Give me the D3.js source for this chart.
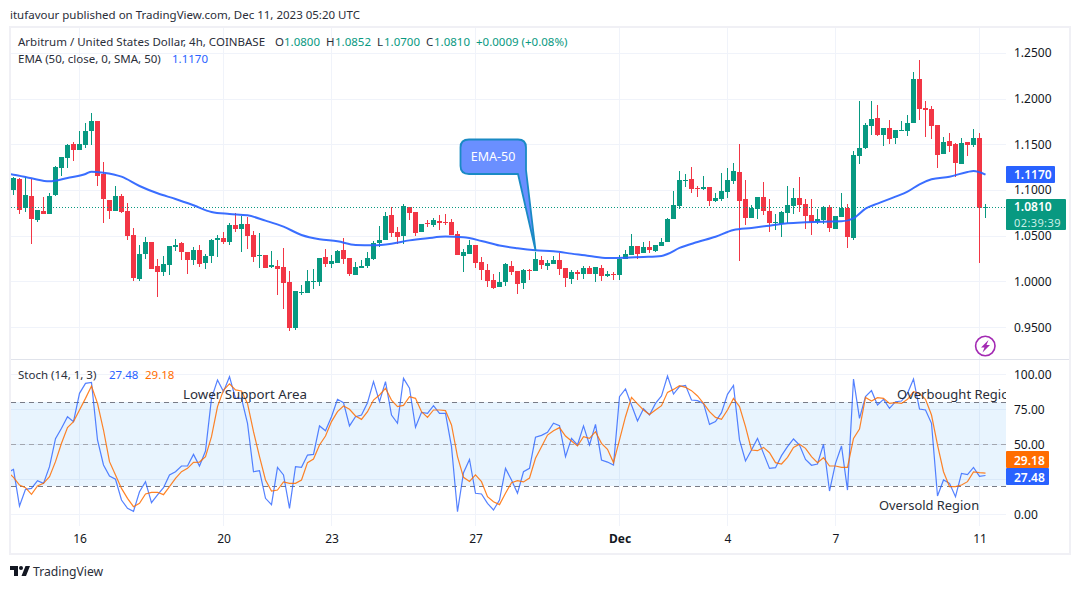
<!DOCTYPE html>
<html><head><meta charset="utf-8">
<script src="https://cdn.jsdelivr.net/npm/d3@7"></script>
<style>html,body{margin:0;padding:0;background:#fff}svg{display:block}text{font-family:"Noto Sans",sans-serif}</style>
</head><body><svg id="c" width="1080" height="589"></svg>
<script>
const open=[1.1001,1.1122,1.0808,1.0936,1.0673,1.0772,1.0739,1.0947,1.1242,1.1351,
1.1505,1.1439,1.1494,1.1647,1.1756,1.1176,1.0892,1.0772,1.0936,1.0772,
1.0509,1.0028,1.0301,1.0432,1.017,1.0104,1.0181,1.0378,1.0421,1.0323,
1.0235,1.0345,1.0203,1.0279,1.0454,1.0476,1.0432,1.0618,1.0575,1.0629,
1.0509,1.0279,1.029,1.0159,1.017,1.0159,.9995,.9491,.9874,.9874,
.9995,.9995,1.0268,1.0192,1.0203,1.0345,1.0258,1.0072,1.0148,1.017,
1.0247,1.0422,1.0454,1.0728,1.0542,1.0498,1.0816,1.0761,1.0542,1.0641,
1.0619,1.0662,1.0651,1.0651,1.052,1.0279,1.0301,1.04,1.0214,1.0126,
1.0017,.994,.9995,1.017,1.0115,.9984,1.0126,1.0115,1.0236,1.017,
1.0192,1.0236,1.0148,1.0028,1.0104,1.0083,1.0148,1.0083,1.0148,1.0061,
1.0083,1.0072,1.0247,1.029,1.0389,1.0312,1.0378,1.0334,1.0389,1.0433,
1.0684,1.0826,1.11,1.1122,1.1023,1.1012,1.1034,1.0881,1.0903,1.0979,
1.11,1.1198,1.0903,1.0695,1.0793,1.0925,1.0772,1.064,1.0629,1.075,
1.0826,1.0914,1.0848,1.0728,1.0651,1.0673,1.0815,1.0575,1.0706,1.0804,
1.0476,1.1373,1.1461,1.1701,1.1789,1.1603,1.168,1.157,1.1647,1.1647,
1.1734,1.2216,1.1898,1.1887,1.1712,1.1395,1.1537,1.1505,1.1286,1.1526,
1.1494,1.157,1.08];
const high=[1.1144,1.1133,1.1144,1.1122,1.0782,1.0925,1.0969,1.1264,1.1362,1.1505,
1.1526,1.1647,1.1734,1.1844,1.1756,1.1308,1.0892,1.1045,1.0958,1.0859,
1.0586,1.04,1.0487,1.0432,1.0246,1.0279,1.0389,1.0465,1.0432,1.0323,
1.0378,1.04,1.0301,1.0465,1.0509,1.0542,1.064,1.075,1.0717,1.0706,
1.0553,1.0531,1.029,1.0334,1.0235,1.0367,1.0115,.9896,.9962,1.0126,
1.0137,1.0257,1.0356,1.029,1.0345,1.0476,1.0258,1.0214,1.0236,1.0323,
1.0444,1.0608,1.0761,1.0816,1.0597,1.0848,1.0816,1.0761,1.063,1.0673,
1.0695,1.0728,1.0739,1.0684,1.0553,1.0356,1.0454,1.04,1.0268,1.0192,
1.0083,1.0104,1.0203,1.0225,1.0115,1.0137,1.0137,1.0323,1.0279,1.0236,
1.0279,1.0312,1.0148,1.0126,1.0126,1.017,1.017,1.0159,1.0181,1.0115,
1.0104,1.029,1.0345,1.052,1.0389,1.0433,1.0444,1.04,1.0476,1.0695,
1.099,1.1209,1.1176,1.1253,1.1045,1.1154,1.1034,1.0968,1.1187,1.1242,
1.1297,1.1505,1.1111,1.0837,1.0925,1.1089,1.0903,1.0739,1.0772,1.1045,
1.1023,1.1143,1.0903,1.0903,1.0793,1.0826,1.0837,1.0717,1.0968,1.0848,
1.1428,1.1975,1.1734,1.1975,1.1931,1.168,1.1767,1.1658,1.1756,1.1822,
1.2292,1.2424,1.1975,1.192,1.1712,1.1581,1.1625,1.1516,1.157,1.1526,
1.1669,1.1625,1.0852];
const low=[1.0947,1.0739,1.0761,1.0411,1.0651,1.0739,1.0739,1.0936,1.1154,1.1242,
1.1319,1.1439,1.1461,1.1494,1.1045,1.064,1.0684,1.0772,1.075,1.0454,
1.0006,1.0006,1.0246,1.0137,.9831,1.006,1.0071,1.0334,1.0235,1.0082,
1.0181,1.0159,1.0137,1.0203,1.0268,1.0411,1.04,1.0542,1.0323,1.0356,
1.0214,1.0148,1.0148,1.0148,.9853,.9699,.9459,.947,.9853,.9874,
.9918,.9951,1.0159,1.0148,1.0203,1.0192,1.0061,1.0072,1.0148,1.0148,
1.0236,1.0378,1.0454,1.0487,1.0411,1.0411,1.0673,1.0498,1.0542,1.0597,
1.0597,1.0564,1.0619,1.0509,1.029,1.0104,1.0301,1.0148,1.0017,.994,
.9918,.994,.9951,1.0072,.9864,.9918,1.0017,1.0115,1.0137,1.0126,
1.0192,1.0072,.994,.9973,1.0017,1.0028,1.0083,.9995,1.0006,1.005,
1.0017,1.0017,1.0247,1.029,1.0247,1.0312,1.0312,1.0323,1.0389,1.0433,
1.0684,1.0793,1.1034,1.0968,1.0925,1.1001,1.0826,1.087,1.0881,1.0914,
1.1067,1.0224,1.0618,1.0695,1.0684,1.0728,1.0542,1.0564,1.0487,1.064,
1.0739,1.0761,1.0575,1.0509,1.0629,1.0629,1.0542,1.0575,1.0706,1.0367,
1.0454,1.1286,1.145,1.1603,1.1592,1.1483,1.1505,1.1505,1.1647,1.1592,
1.1734,1.1767,1.1581,1.1559,1.1242,1.1395,1.1417,1.1143,1.1286,1.1373,
1.1472,1.0203,1.07];
const close=[1.1133,1.0782,1.0947,1.0684,1.0782,1.0739,1.0936,1.1253,1.1362,1.1494,
1.1439,1.1505,1.1647,1.1756,1.1154,1.0903,1.0772,1.0936,1.0761,1.0498,
1.0039,1.0301,1.0432,1.0137,1.0104,1.0192,1.0389,1.04,1.0323,1.0235,
1.0345,1.0192,1.0279,1.0454,1.0476,1.0432,1.0618,1.0575,1.0629,1.0498,
1.0268,1.029,1.0148,1.0181,1.0137,.9984,.9491,.9896,.9885,1.0006,
1.0006,1.0257,1.0192,1.0225,1.0334,1.0247,1.0083,1.0159,1.017,1.0258,
1.0422,1.0454,1.0717,1.0531,1.0487,1.0826,1.075,1.0531,1.063,1.063,
1.0673,1.0641,1.0641,1.0509,1.029,1.0323,1.04,1.0203,1.0126,1.0006,
.9929,.9995,1.0192,1.0104,.9973,1.0126,1.0115,1.0247,1.0181,1.0203,
1.0236,1.0137,1.0039,1.0104,1.0083,1.0148,1.0083,1.0159,1.0061,1.0083,
1.0072,1.0247,1.0301,1.0389,1.0301,1.0378,1.0345,1.04,1.0433,1.0684,
1.0837,1.1111,1.1111,1.1012,1.1012,1.1034,1.0881,1.0914,1.099,1.1111,
1.1209,1.0881,1.0695,1.0804,1.0925,1.0772,1.064,1.0651,1.0761,1.0837,
1.0914,1.0837,1.0717,1.0651,1.0684,1.0815,1.0586,1.0717,1.0804,1.0487,
1.1384,1.1461,1.1712,1.1778,1.1603,1.168,1.1559,1.1658,1.1658,1.1734,
1.2216,1.1887,1.1876,1.1701,1.1384,1.1526,1.1483,1.1297,1.1516,1.1494,
1.157,1.08,1.081];
const emaBars=[-1,0,3,6,9,12,13,15,18,21,24,27,30,33,36,39,42,45,48,51,54,57,60,63,66,69,72,75,78,81,84,87,90,93,96,99,102,105,108,109,111,114,117,120,123,126,129,132,135,138,140,142,144,147,149,151,153,156,159,160,162];
const emaValues=[1.1176,1.1169,1.1129,1.1096,1.1133,1.1176,1.1202,1.1191,1.1147,1.1045,1.0965,1.0903,1.0834,1.0761,1.0739,1.0724,1.0666,1.06,1.0509,1.0462,1.044,1.04,1.0396,1.0414,1.045,1.0473,1.0491,1.0484,1.0444,1.0393,1.0363,1.0341,1.033,1.0305,1.0279,1.0258,1.0261,1.0268,1.0279,1.0301,1.0367,1.0432,1.049,1.0564,1.0586,1.0611,1.0637,1.0648,1.0655,1.0658,1.0691,1.0797,1.0852,1.0928,1.0983,1.1063,1.1118,1.1147,1.1198,1.1209,1.117];
// Stochastic values start one bar before the first visible candle
const stochK=[29.5,31.9,5.7,17.6,18.3,23.8,21.9,33.8,53.8,61.2,69.5,66,86.2,93.3,94,52.9,35,27.1,24.8,10,4,1.9,15.9,23.1,8.1,13.6,18.8,27.9,30.2,34.3,34.3,42.6,34.3,45,82.6,95.7,87.4,98.1,82.6,82.6,64.8,30.2,31,11.2,6.7,33.3,27.9,4,33.8,33.3,42.1,42.6,62.9,59.5,69.5,81.9,
79.5,62.9,69.5,70.7,79.5,94.5,80.2,94.5,70.7,64.8,96.9,89.8,61.9,72.6,71.9,77.4,71.9,71.9,48.1,1.7,29.5,39,14.8,14.3,7.6,2.9,10,32.6,24.3,14.8,30.2,32.6,54.8,56.2,58.3,64.8,63.1,41,54,49.3,62.9,49.3,64,38.6,37.1,35,83.8,89.3,77.9,66.4,75.2,70.7,79,84.3,98.6,85.7,91,
91.9,81.4,81,79,64,66,72.4,85.5,91.9,52.9,37.9,45.7,54,43.3,32.6,33.1,41.7,48.1,53.6,49.3,39,34.8,35.7,49.8,16.4,36.2,48.6,17.1,96.4,68.3,83.8,88.1,77.9,81.9,75.5,80.2,80.7,86.2,96.4,75,74.3,64.8,12.9,24.3,21.9,12.4,29,28.1,33.3,26.9,27.48];
const stochD=[30.2,26.2,20.7,18.8,14,20,21.9,26.7,37.4,50.5,61.7,66,74.3,82.6,91.4,79,60,37.4,27.9,18.3,11.2,5.2,7.6,14.3,15.5,15.5,13.8,19.5,25.5,30.2,32.6,36.9,37.1,41,55.2,76.7,88.6,92.9,88.6,87.9,79,58.8,41,24.3,16.4,17.1,22.9,21.9,21.9,24.3,36.7,39.3,49.3,55.7,66,73.1,
77.1,74.8,70,67.6,73.1,81.4,85,89.8,81.4,76.7,77.6,83.8,82.6,73.1,69,74.3,74.3,73.8,63.6,41,26.2,23.3,27.9,23.1,12.4,8.8,6.7,14.8,22.4,23.8,22.9,25.7,39.8,48.1,56.4,59.5,61.7,55.7,52.1,48.6,55.2,54,58.8,50.5,46.2,36.7,52.9,69.5,83.3,78.6,74.3,71,74.3,77.4,86.9,89,91.7,
90.5,88.1,84.3,79,73.1,69,67.6,74.3,82.6,76.7,62.4,45.7,45.2,47.6,43.8,36.7,35.7,40.5,47.6,49.8,46.9,41,36.7,40.2,34.3,34.3,33.3,33.3,54,60.7,83.3,80.7,83.1,82.6,79,79.5,79,81.9,87.4,86.2,81.9,70.7,49.3,30.2,19.5,19.5,20.7,23.1,30,29.5,29.18];
const priceTicks=[1.25,1.2,1.15,1.1,1.05,1.0,0.95];
const stochTicks=[100,75,50,0];
const stochGrid=[100,75,50,25,0];
const stochBands=[80,50,20];
const dateTicks=[11,35,53,77,101,119,137,161];
const dateLabels=["16","20","23","27","Dec","4","7","11"];
const lastClose=1.081, lastEma=1.117;

const GREEN="#089981",RED="#f23645",BLUE="#2962ff",ORANGE="#ff6d00",TXT="#131722",GRID="#f0f3fa";
const L=11,R=1006,PT=28,PB=359,ST=360,SB=526;
const svg=d3.select("#c");
const x=d3.scaleLinear().domain([0,162]).range([13.5,985.5]);
const y=d3.scaleLinear().domain([1.25,0.95]).range([53,327.2]);
const s=d3.scaleLinear().domain([100,0]).range([374,514]);

const defs=svg.append("defs");
defs.append("clipPath").attr("id","cp").append("rect").attr("x",L).attr("y",PT).attr("width",R-L).attr("height",PB-PT);
defs.append("clipPath").attr("id","cs").append("rect").attr("x",L).attr("y",ST).attr("width",R-L).attr("height",SB-ST);

// frame
svg.append("rect").attr("x",10).attr("y",27).attr("width",1060).attr("height",527).attr("fill","none").attr("stroke","#f0f0f5").attr("stroke-width",2);
svg.append("line").attr("x1",L).attr("x2",1069).attr("y1",359.5).attr("y2",359.5).attr("stroke","#e0e3eb");

// grids
const grid=svg.append("g").attr("stroke",GRID).attr("stroke-width",1);
dateTicks.forEach(d=>{grid.append("line").attr("x1",x(d)).attr("x2",x(d)).attr("y1",PT).attr("y2",PB);
  grid.append("line").attr("x1",x(d)).attr("x2",x(d)).attr("y1",ST).attr("y2",SB);});
priceTicks.forEach(p=>grid.append("line").attr("x1",L).attr("x2",R).attr("y1",Math.round(y(p))+.5).attr("y2",Math.round(y(p))+.5));
stochGrid.forEach(p=>grid.append("line").attr("x1",L).attr("x2",R).attr("y1",Math.round(s(p))+.5).attr("y2",Math.round(s(p))+.5));

// candles
const pane=svg.append("g").attr("clip-path","url(#cp)");
const col=i=>close[i]>=open[i]?GREEN:RED;
const bars=d3.range(open.length);
pane.selectAll(".w").data(bars).join("rect").attr("class","w")
 .attr("x",i=>x(i)-.5).attr("width",1)
 .attr("y",i=>Math.round(y(high[i]))).attr("height",i=>Math.max(1,Math.round(y(low[i]))-Math.round(y(high[i]))))
 .attr("fill",col);
pane.selectAll(".b").data(bars).join("rect").attr("class","b")
 .attr("x",i=>x(i)-2.5).attr("width",5)
 .attr("y",i=>Math.round(y(Math.max(open[i],close[i]))))
 .attr("height",i=>Math.max(1,Math.round(y(Math.min(open[i],close[i])))-Math.round(y(Math.max(open[i],close[i])))))
 .attr("fill",col);

// last price line
pane.append("line").attr("x1",L).attr("x2",R).attr("y1",Math.round(y(lastClose))+.5).attr("y2",Math.round(y(lastClose))+.5)
 .attr("stroke",GREEN).attr("stroke-width",1).attr("stroke-dasharray","1 2");

// EMA
pane.append("path").datum(emaBars.map((b,i)=>[b,emaValues[i]]))
 .attr("fill","none").attr("stroke",BLUE).attr("stroke-width",2).attr("opacity",.92)
 .attr("d",d3.line().x(d=>x(d[0])).y(d=>y(d[1])).curve(d3.curveMonotoneX));

// callout
const tipX=x(87),tipY=y(1.0341);
svg.append("path")
 .attr("d",`M469,139.5 H518 Q526,139.5 526,147.5 V170 L${tipX},${tipY} L518,174 H469 Q460.5,174 460.5,166 V147.5 Q460.5,139.5 469,139.5 Z`)
 .attr("fill","#6a8fff").attr("stroke","#1a8ac4").attr("stroke-width",1.8).attr("stroke-linejoin","round");
svg.append("text").attr("x",493).attr("y",161).attr("text-anchor","middle").attr("fill","#fff").attr("font-size",12.5).text("EMA-50");

// lightning icon
const ic=svg.append("g");
ic.append("circle").attr("cx",985.3).attr("cy",346).attr("r",9.7).attr("fill","#fff").attr("stroke","#a32ab3").attr("stroke-width",1.6);
ic.append("path").attr("d","M988.5,340 L981,347.5 L984.5,347.5 L982.5,352.5 L990,345 L986.5,345 Z").attr("fill","#a32ab3");

// stoch pane
const sp=svg.append("g").attr("clip-path","url(#cs)");
sp.append("rect").attr("x",L).attr("width",R-L).attr("y",s(80)).attr("height",s(20)-s(80)).attr("fill","#2196f3").attr("opacity",.1);
stochBands.forEach(b=>sp.append("line").attr("x1",L).attr("x2",R).attr("y1",Math.round(s(b))+.5).attr("y2",Math.round(s(b))+.5)
 .attr("stroke",b===50?"#a3a6af":"#787b86").attr("stroke-width",1).attr("stroke-dasharray","5 4"));
const ln=d3.line().x((d,i)=>x(i-1)).y(d=>s(d));
sp.append("path").datum(stochK).attr("fill","none").attr("stroke",BLUE).attr("stroke-opacity",.8).attr("stroke-width",1.2).attr("d",ln);
sp.append("path").datum(stochD).attr("fill","none").attr("stroke",ORANGE).attr("stroke-opacity",.85).attr("stroke-width",1.2).attr("d",ln);

// annotations in pane
const ann=svg.append("g").attr("clip-path","url(#cs)").attr("fill","#2a2e39").attr("font-size",13);
ann.append("text").attr("x",183).attr("y",399).attr("font-size",13.3).text("Lower Support Area");
ann.append("text").attr("x",897).attr("y",399).text("Overbought Region");
ann.append("text").attr("x",879).attr("y",510).attr("font-size",12.9).text("Oversold Region");

// axes
const axisG=(g,ax)=>{g.call(ax);g.select(".domain").remove();g.selectAll("text").attr("fill",TXT).attr("font-size",12).attr("font-family",'"Noto Sans",sans-serif');g.selectAll("line").remove();};
svg.append("g").attr("transform","translate(1008,0)").call(g=>axisG(g,d3.axisRight(y).tickValues(priceTicks).tickFormat(d3.format(".4f")).tickSize(0).tickPadding(6)));
svg.append("g").attr("transform","translate(1008,0.7)").call(g=>axisG(g,d3.axisRight(s).tickValues(stochTicks).tickFormat(d3.format(".2f")).tickSize(0).tickPadding(6)));
const tg=svg.append("g").attr("transform","translate(0,531)");
axisG(tg,d3.axisBottom(x).tickValues(dateTicks).tickFormat((d,i)=>dateLabels[i]).tickSize(0).tickPadding(3));
tg.selectAll("text").filter((d,i)=>dateLabels[i]==="Dec").attr("font-weight",700);

// price tags
const tag=(yy,h,c)=>svg.append("rect").attr("x",R).attr("y",yy).attr("width",c[1]).attr("height",h).attr("fill",c[0]).attr("rx",1);
tag(166,17,[BLUE,49]);
svg.append("text").attr("x",1014).attr("y",179).attr("fill","#fff").attr("font-size",12).attr("font-weight",600).text(d3.format(".4f")(lastEma));
tag(199,31,[GREEN,60]);
svg.append("text").attr("x",1014).attr("y",211).attr("fill","#fff").attr("font-size",12).attr("font-weight",600).text(d3.format(".4f")(lastClose));
svg.append("text").attr("x",1014).attr("y",227).attr("fill","#c9efe7").attr("font-size",11).attr("letter-spacing",.4).text("02:39:39");
tag(451,17,[ORANGE,43]);
svg.append("text").attr("x",1014).attr("y",464.5).attr("fill","#fff").attr("font-size",12).attr("font-weight",600).text(stochD[stochD.length-1].toFixed(2));
tag(468,17,[BLUE,43]);
svg.append("text").attr("x",1014).attr("y",481.5).attr("fill","#fff").attr("font-size",12).attr("font-weight",600).text(stochK[stochK.length-1].toFixed(2));

// header + legends
const t=(xx,yy,str,c,sz)=>svg.append("text").attr("x",xx).attr("y",yy).attr("fill",c||"#2a2e39").attr("font-size",sz||12).text(str);
t(10,19,"itufavour published on TradingView.com, Dec 11, 2023 05:20 UTC","#2a2e39",11.5);
t(18,46,"Arbitrum / United States Dollar, 4h, COINBASE","#2a2e39",11.5);
[["O",275,"1.0800",284],["H",326,"1.0852",335],["L",377,"1.0700",384],["C",426,"1.0810",434]].forEach(a=>{t(a[1],46,a[0],"#2a2e39",11.5);t(a[3],46,a[2],GREEN,11.5);});
t(476,46,"+0.0009 (+0.08%)",GREEN,11.5);
t(18,63,"EMA (50, close, 0, SMA, 50)","#2a2e39",11.5);
t(172,63,"1.1170",BLUE,11.5);
t(18,379,"Stoch (14, 1, 3)","#2a2e39",11.5);
t(109,379,"27.48",BLUE,11.5);
t(145,379,"29.18",ORANGE,11.5);

// logo
const lg=svg.append("g").attr("fill","#131722");
lg.append("path").attr("d","M10,566 H18 V576 H14 V570 H10 Z M25.5,566 H30 L26,576 H21.5 Z");
lg.append("circle").attr("cx",21).attr("cy",568).attr("r",2);
t(33,576,"TradingView","#2a2e39",12.2);
</script></body></html>
